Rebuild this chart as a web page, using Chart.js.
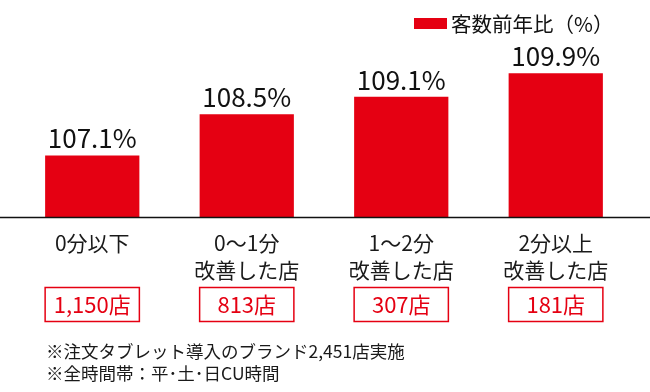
<!DOCTYPE html>
<html lang="ja">
<head>
<meta charset="utf-8">
<script src="https://cdn.jsdelivr.net/npm/chart.js@4/dist/chart.umd.min.js"></script>
<style>
  html, body { margin: 0; padding: 0; background: #fff; }
  #wrap { position: relative; width: 650px; height: 392px; }
  #notes {
    position: absolute; left: 46px; top: 340px;
    font-family: "Noto Sans CJK JP", sans-serif; font-size: 17.5px;
    line-height: 22px; color: #1a1a1a;
  }
</style>
</head>
<body>
<div id="wrap">
  <canvas id="visitChart" width="650" height="392"></canvas>
  <div id="notes">
    <div>※注文タブレット導入のブランド2,451店実施</div>
    <div>※全時間帯：平･土･日CU時間</div>
  </div>
</div>
<script>
// categories / values
const categories = [["0分以下"], ["0～1分", "改善した店"], ["1～2分", "改善した店"], ["2分以上", "改善した店"]];
const ratioValues = [107.1, 108.5, 109.1, 109.9];
const storeCounts = ["1,150店", "813店", "307店", "181店"];
const seriesName = "客数前年比（%）";

const RED = "#e50012";
const FONT = "'Noto Sans CJK JP', 'Noto Sans', sans-serif";

// value labels, count boxes, baseline, legend
const decorPlugin = {
  id: "decor",
  afterDatasetsDraw(chart) {
    const ctx = chart.ctx;
    const meta = chart.getDatasetMeta(0);
    const yBase = chart.scales.y.getPixelForValue(chart.scales.y.min);

    ctx.save();
    // baseline across the whole width
    ctx.strokeStyle = "#111";
    ctx.lineWidth = 1.5;
    ctx.beginPath();
    ctx.moveTo(0, yBase + 0.5);
    ctx.lineTo(chart.width, yBase + 0.5);
    ctx.stroke();

    meta.data.forEach((bar, i) => {
      // value on top
      ctx.fillStyle = "#111";
      ctx.font = "26px " + FONT;
      ctx.textAlign = "center";
      ctx.textBaseline = "alphabetic";
      ctx.fillText(ratioValues[i].toFixed(1) + "%", bar.x, bar.y - 7);

      // store count box
      const left = bar.x - bar.width / 2;
      ctx.strokeStyle = RED;
      ctx.lineWidth = 1.5;
      ctx.strokeRect(left, 287.5, bar.width, 34);
      ctx.fillStyle = RED;
      ctx.font = "22px " + FONT;
      ctx.textBaseline = "middle";
      ctx.fillText(storeCounts[i], bar.x, 305);
    });

    // legend
    ctx.fillStyle = RED;
    ctx.fillRect(414, 18, 33, 11);
    ctx.fillStyle = "#111";
    ctx.font = "20.5px " + FONT;
    ctx.textAlign = "left";
    ctx.textBaseline = "middle";
    ctx.fillText(seriesName, 451, 24);
    ctx.restore();
  }
};

new Chart(document.getElementById("visitChart"), {
  type: "bar",
  data: {
    labels: categories,
    datasets: [{
      label: seriesName,
      data: ratioValues,
      backgroundColor: RED,
      borderWidth: 0,
      barPercentage: 0.61,
      categoryPercentage: 1
    }]
  },
  options: {
    responsive: false,
    animation: false,
    events: [],
    layout: { padding: { left: 15, right: 17, top: 41, bottom: 0 } },
    plugins: {
      legend: { display: false },
      tooltip: { enabled: false }
    },
    scales: {
      x: {
        grid: { display: false, drawTicks: false },
        border: { display: false },
        ticks: {
          color: "#1a1a1a",
          padding: 12,
          maxRotation: 0,
          autoSkip: false,
          font: { family: FONT, size: 21, lineHeight: 1.3 }
        },
        afterFit(scale) { scale.height = 175; }
      },
      y: {
        display: false,
        min: 105,
        max: 111
      }
    }
  },
  plugins: [decorPlugin]
});
</script>
</body>
</html>
